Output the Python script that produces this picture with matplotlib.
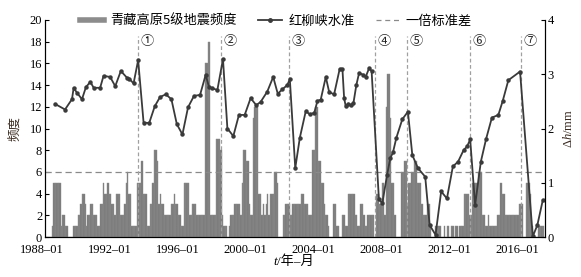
import matplotlib
matplotlib.use("Agg")
import matplotlib.pyplot as plt
import matplotlib.transforms as mtransforms
from matplotlib.lines import Line2D
import numpy as np

plt.rcParams.update({
    "font.family": ["Liberation Serif", "Noto Sans CJK SC"],
    "font.size": 9,
    "axes.unicode_minus": False,
    "mathtext.fontset": "custom",
    "mathtext.rm": "Liberation Serif",
    "mathtext.it": "Liberation Serif:italic",
})

# monthly M5 earthquake counts, 1988-01 .. 2017-05
freq_1988 = [0, 0, 0, 0, 0, 1, 5, 5, 5, 5, 5, 1]
freq_1989 = [2, 2, 1, 1, 0, 0, 0, 0, 1, 1, 1, 2]
freq_1990 = [2, 3, 4, 4, 3, 1, 2, 2, 3, 3, 2, 2]
freq_1991 = [2, 1, 1, 3, 3, 5, 4, 4, 5, 4, 4, 3]
freq_1992 = [3, 2, 4, 4, 4, 2, 2, 2, 3, 5, 6, 4]
freq_1993 = [4, 1, 1, 1, 1, 5, 5, 5, 7, 4, 4, 4]
freq_1994 = [1, 1, 3, 3, 5, 8, 8, 7, 3, 4, 3, 3]
freq_1995 = [2, 2, 2, 2, 2, 3, 3, 4, 3, 3, 2, 2]
freq_1996 = [1, 1, 5, 5, 5, 5, 2, 2, 3, 3, 3, 2]
freq_1997 = [2, 2, 2, 2, 2, 16, 16, 18, 18, 2, 2, 2]
freq_1998 = [2, 9, 9, 9, 8, 2, 1, 1, 1, 0, 1, 2]
freq_1999 = [2, 2, 3, 3, 3, 3, 2, 5, 8, 8, 7, 7]
freq_2000 = [3, 2, 2, 11, 12, 12, 12, 4, 4, 2, 3, 2]
freq_2001 = [3, 4, 2, 4, 4, 4, 6, 6, 5, 0, 0, 0]
freq_2002 = [2, 2, 3, 3, 3, 2, 2, 3, 3, 3, 3, 3]
freq_2003 = [3, 4, 4, 3, 3, 3, 2, 2, 2, 8, 8, 12]
freq_2004 = [12, 7, 7, 5, 5, 3, 2, 2, 1, 0, 0, 0]
freq_2005 = [3, 3, 1, 1, 0, 0, 2, 2, 1, 1, 4, 4]
freq_2006 = [4, 4, 4, 2, 2, 1, 1, 3, 3, 2, 1, 1]
freq_2007 = [2, 2, 2, 2, 2, 0, 4, 4, 3, 3, 5, 5]
freq_2008 = [2, 12, 15, 15, 11, 5, 5, 2, 0, 0, 0, 0]
freq_2009 = [6, 6, 7, 7, 3, 5, 5, 6, 6, 7, 7, 5]
freq_2010 = [5, 5, 3, 2, 2, 2, 3, 3, 1, 0, 0, 0]
freq_2011 = [1, 1, 1, 1, 0, 0, 1, 0, 1, 1, 0, 1]
freq_2012 = [1, 0, 1, 1, 0, 1, 1, 1, 4, 4, 4, 4]
freq_2013 = [2, 2, 5, 5, 5, 5, 6, 6, 6, 2, 2, 1]
freq_2014 = [1, 2, 1, 1, 1, 1, 1, 1, 2, 2, 5, 4]
freq_2015 = [4, 2, 2, 2, 2, 2, 2, 2, 2, 2, 2, 3]
freq_2016 = [3, 3, 0, 0, 5, 5, 5, 4, 1, 0, 0, 0]
freq_2017 = [0, 1, 1, 1, 1]

freq = (freq_1988 + freq_1989 + freq_1990 + freq_1991 + freq_1992 + freq_1993
        + freq_1994 + freq_1995 + freq_1996 + freq_1997 + freq_1998 + freq_1999
        + freq_2000 + freq_2001 + freq_2002 + freq_2003 + freq_2004 + freq_2005
        + freq_2006 + freq_2007 + freq_2008 + freq_2009 + freq_2010 + freq_2011
        + freq_2012 + freq_2013 + freq_2014 + freq_2015 + freq_2016 + freq_2017)

# Hongliuxia leveling, decimal year / mm
level_t = [1988.61, 1989.18, 1989.59, 1989.69, 1989.88, 1990.18, 1990.41, 1990.67,
           1990.87, 1991.25, 1991.45, 1991.84, 1992.14, 1992.47, 1992.82, 1992.96,
           1993.22, 1993.49, 1993.81, 1994.14, 1994.47, 1994.78, 1995.12, 1995.45,
           1995.77, 1996.10, 1996.43, 1996.78, 1997.14, 1997.47, 1997.67, 1997.87,
           1998.16, 1998.49, 1998.75, 1999.10, 1999.43, 1999.77, 2000.12, 2000.45,
           2000.71, 2001.10, 2001.45, 2001.72, 2001.98, 2002.28, 2002.43, 2002.75,
           2003.02, 2003.37, 2003.61, 2003.87, 2004.06, 2004.25, 2004.55, 2004.75,
           2005.04, 2005.37, 2005.53, 2005.63, 2005.72, 2005.88, 2006.02, 2006.18,
           2006.35, 2006.51, 2006.77, 2006.90, 2007.10, 2007.25, 2007.68, 2007.88,
           2008.16, 2008.35, 2008.51, 2008.71, 2009.06, 2009.39, 2009.65, 2009.98,
           2010.41, 2010.67, 2011.02, 2011.35, 2011.69, 2012.04, 2012.35, 2012.67,
           2012.88, 2013.06, 2013.35, 2013.69, 2014.00, 2014.34, 2014.72, 2014.98,
           2015.31, 2016.00, 2016.75, 2017.02, 2017.34]
level_mm = [2.45, 2.35, 2.54, 2.75, 2.66, 2.54, 2.76, 2.86, 2.75, 2.75, 2.97, 2.95,
            2.78, 3.06, 2.94, 2.92, 2.83, 3.26, 2.11, 2.10, 2.41, 2.58, 2.63, 2.54,
            2.08, 1.89, 2.39, 2.60, 2.62, 2.99, 2.76, 2.74, 2.71, 3.28, 2.00, 1.86,
            2.25, 2.25, 2.56, 2.43, 2.49, 2.68, 2.95, 2.64, 2.72, 2.80, 2.91, 1.27,
            1.83, 2.32, 2.26, 2.29, 2.51, 2.53, 2.95, 2.67, 2.63, 3.10, 3.10, 2.56,
            2.42, 2.46, 2.43, 2.47, 2.80, 3.02, 2.99, 2.95, 3.11, 3.06, 0.70, 0.62,
            1.14, 1.45, 1.56, 1.83, 2.17, 2.31, 1.51, 1.27, 1.11, 0.22, 0.04, 0.84,
            0.71, 1.30, 1.39, 1.60, 1.67, 1.80, 0.59, 1.39, 1.81, 2.20, 2.25, 2.51,
            2.89, 3.05, 0.01, 0.22, 0.68]

std_line = 6
event_t = [1993.49, 1998.39, 2002.39, 2007.45, 2009.35, 2013.06, 2016.06]
event_labels = ["①", "②", "③", "④", "⑤", "⑥", "⑦"]
tick_years = [1988, 1992, 1996, 2000, 2004, 2008, 2012, 2016]

bar_t = 1988 + (np.arange(len(freq)) + 0.5) / 12

fig = plt.figure(figsize=(5.81, 2.77), dpi=100)
ax = fig.add_axes([45 / 581, 40 / 277, 500 / 581, 217 / 277])

ax.bar(bar_t, freq, width=1 / 12, color="#7a7a7a", edgecolor="#8c8c8c", linewidth=0.3)
ax.axhline(std_line, color="#8a8a8a", linestyle=(0, (5, 3)), linewidth=0.9)
for t, lab in zip(event_t, event_labels):
    ax.plot([t, t], [0, 18.5], color="#a0a0a0", linestyle=(0, (3, 2)), linewidth=0.9)
    ax.text(t + 0.55, 18.0, lab, ha="center", va="center", fontsize=9.5,
            family=["Noto Sans CJK SC"], color="#222222")

ax.set_xlim(1988, 2017.47)
ax.set_ylim(0, 20)
ax.set_yticks(range(0, 21, 2))
ax.set_xticks(tick_years)
ax.set_xticklabels([f"{y}–01" for y in tick_years])
ax.tick_params(axis="x", length=0, pad=5)
shift = mtransforms.ScaledTranslation(-3 / 100, 0, fig.dpi_scale_trans)
for lab in ax.get_xticklabels():
    lab.set_transform(lab.get_transform() + shift)
ax.set_ylabel("频度", color="#3a2a20", labelpad=6)
ax.spines["top"].set_visible(False)
ax.tick_params(axis="y", direction="in", length=3, width=0.8, pad=2)

# x label: italic t followed by the Chinese unit
fig.text(277 / 581, 1 - 262 / 277, "t", style="italic", ha="right", va="center", fontsize=9.5)
fig.text(277 / 581, 1 - 262 / 277, "/年–月", ha="left", va="center", fontsize=9.5)

ax2 = ax.twinx()
ax2.plot(level_t, level_mm, "-o", color="#3a3a3a", linewidth=1.3, markersize=2.2)
ax2.set_ylim(0, 4)
ax2.set_yticks(range(0, 5))
ax2.set_ylabel("Δ$h$/mm", color="#3a2a20", labelpad=6)
ax2.spines["top"].set_visible(False)
ax2.tick_params(direction="in", length=3, width=0.8, pad=2)

handles = [
    Line2D([], [], color="#8c8c8c", linewidth=4),
    Line2D([], [], color="#3a3a3a", linewidth=1.3, marker="o", markersize=2.5),
    Line2D([], [], color="#8a8a8a", linewidth=0.9, linestyle=(0, (4, 3))),
]
labels = ["青藏高原5级地震频度", "红柳峡水准", "一倍标准差"]
fig.legend(handles, labels, loc="center", bbox_to_anchor=(0.475, 1 - 21 / 277),
           ncol=3, frameon=False, handlelength=1.8,
           columnspacing=1.6, handletextpad=0.5,
           prop={"family": ["Noto Sans CJK SC"], "size": 9.5})

fig.savefig("out.png", dpi=100, facecolor="white")
